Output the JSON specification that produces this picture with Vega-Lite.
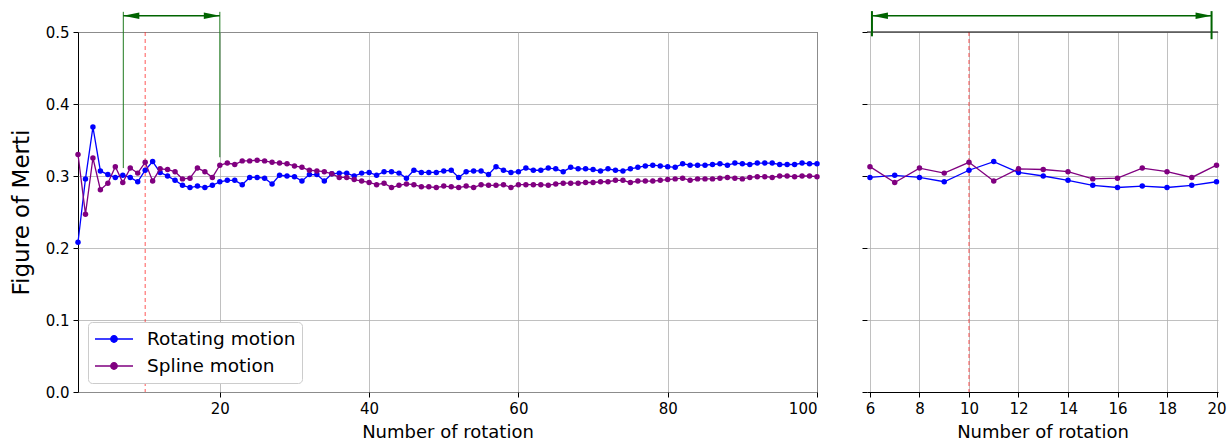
{
  "$schema": "https://vega.github.io/schema/vega-lite/v6.json",
  "padding": {"left": 9, "top": 10, "right": 0, "bottom": 0},
  "spacing": 50,
  "bounds": "flush",
  "config": {
    "font": "DejaVu Sans",
    "view": {"stroke": null},
    "axis": {
      "labelFont": "DejaVu Sans", "labelFontSize": 15, "labelColor": "#000",
      "titleFont": "DejaVu Sans", "titleFontWeight": "normal", "titleColor": "#000",
      "tickColor": "#000", "tickSize": 5, "tickWidth": 1, "labelPadding": 4,
      "gridColor": "#b0b0b0", "gridWidth": 0.8, "domainColor": "#000", "domainWidth": 1
    }
  },
  "datasets": {
    "fom": [
      {"n":1,"m":"Rotating motion","v":0.208},{"n":2,"m":"Rotating motion","v":0.296},{"n":3,"m":"Rotating motion","v":0.368},{"n":4,"m":"Rotating motion","v":0.307},{"n":5,"m":"Rotating motion","v":0.302},
      {"n":6,"m":"Rotating motion","v":0.298},{"n":7,"m":"Rotating motion","v":0.301},{"n":8,"m":"Rotating motion","v":0.298},{"n":9,"m":"Rotating motion","v":0.292},{"n":10,"m":"Rotating motion","v":0.308},
      {"n":11,"m":"Rotating motion","v":0.320},{"n":12,"m":"Rotating motion","v":0.305},{"n":13,"m":"Rotating motion","v":0.300},{"n":14,"m":"Rotating motion","v":0.294},{"n":15,"m":"Rotating motion","v":0.287},
      {"n":16,"m":"Rotating motion","v":0.284},{"n":17,"m":"Rotating motion","v":0.286},{"n":18,"m":"Rotating motion","v":0.284},{"n":19,"m":"Rotating motion","v":0.287},{"n":20,"m":"Rotating motion","v":0.292},
      {"n":21,"m":"Rotating motion","v":0.294},{"n":22,"m":"Rotating motion","v":0.294},{"n":23,"m":"Rotating motion","v":0.288},{"n":24,"m":"Rotating motion","v":0.298},{"n":25,"m":"Rotating motion","v":0.298},
      {"n":26,"m":"Rotating motion","v":0.297},{"n":27,"m":"Rotating motion","v":0.289},{"n":28,"m":"Rotating motion","v":0.301},{"n":29,"m":"Rotating motion","v":0.300},{"n":30,"m":"Rotating motion","v":0.299},
      {"n":31,"m":"Rotating motion","v":0.293},{"n":32,"m":"Rotating motion","v":0.302},{"n":33,"m":"Rotating motion","v":0.302},{"n":34,"m":"Rotating motion","v":0.293},{"n":35,"m":"Rotating motion","v":0.303},
      {"n":36,"m":"Rotating motion","v":0.304},{"n":37,"m":"Rotating motion","v":0.304},{"n":38,"m":"Rotating motion","v":0.300},{"n":39,"m":"Rotating motion","v":0.304},{"n":40,"m":"Rotating motion","v":0.305},
      {"n":41,"m":"Rotating motion","v":0.301},{"n":42,"m":"Rotating motion","v":0.306},{"n":43,"m":"Rotating motion","v":0.306},{"n":44,"m":"Rotating motion","v":0.304},{"n":45,"m":"Rotating motion","v":0.297},
      {"n":46,"m":"Rotating motion","v":0.308},{"n":47,"m":"Rotating motion","v":0.305},{"n":48,"m":"Rotating motion","v":0.305},{"n":49,"m":"Rotating motion","v":0.305},{"n":50,"m":"Rotating motion","v":0.307},
      {"n":51,"m":"Rotating motion","v":0.308},{"n":52,"m":"Rotating motion","v":0.298},{"n":53,"m":"Rotating motion","v":0.306},{"n":54,"m":"Rotating motion","v":0.307},{"n":55,"m":"Rotating motion","v":0.307},
      {"n":56,"m":"Rotating motion","v":0.302},{"n":57,"m":"Rotating motion","v":0.313},{"n":58,"m":"Rotating motion","v":0.308},{"n":59,"m":"Rotating motion","v":0.305},{"n":60,"m":"Rotating motion","v":0.306},
      {"n":61,"m":"Rotating motion","v":0.311},{"n":62,"m":"Rotating motion","v":0.308},{"n":63,"m":"Rotating motion","v":0.308},{"n":64,"m":"Rotating motion","v":0.311},{"n":65,"m":"Rotating motion","v":0.310},
      {"n":66,"m":"Rotating motion","v":0.306},{"n":67,"m":"Rotating motion","v":0.312},{"n":68,"m":"Rotating motion","v":0.310},{"n":69,"m":"Rotating motion","v":0.310},{"n":70,"m":"Rotating motion","v":0.309},
      {"n":71,"m":"Rotating motion","v":0.307},{"n":72,"m":"Rotating motion","v":0.310},{"n":73,"m":"Rotating motion","v":0.308},{"n":74,"m":"Rotating motion","v":0.307},{"n":75,"m":"Rotating motion","v":0.310},
      {"n":76,"m":"Rotating motion","v":0.312},{"n":77,"m":"Rotating motion","v":0.314},{"n":78,"m":"Rotating motion","v":0.315},{"n":79,"m":"Rotating motion","v":0.314},{"n":80,"m":"Rotating motion","v":0.313},
      {"n":81,"m":"Rotating motion","v":0.312},{"n":82,"m":"Rotating motion","v":0.317},{"n":83,"m":"Rotating motion","v":0.315},{"n":84,"m":"Rotating motion","v":0.315},{"n":85,"m":"Rotating motion","v":0.315},
      {"n":86,"m":"Rotating motion","v":0.316},{"n":87,"m":"Rotating motion","v":0.317},{"n":88,"m":"Rotating motion","v":0.315},{"n":89,"m":"Rotating motion","v":0.318},{"n":90,"m":"Rotating motion","v":0.317},
      {"n":91,"m":"Rotating motion","v":0.316},{"n":92,"m":"Rotating motion","v":0.318},{"n":93,"m":"Rotating motion","v":0.318},{"n":94,"m":"Rotating motion","v":0.318},{"n":95,"m":"Rotating motion","v":0.316},
      {"n":96,"m":"Rotating motion","v":0.316},{"n":97,"m":"Rotating motion","v":0.316},{"n":98,"m":"Rotating motion","v":0.318},{"n":99,"m":"Rotating motion","v":0.317},{"n":100,"m":"Rotating motion","v":0.317},
      {"n":1,"m":"Spline motion","v":0.330},{"n":2,"m":"Spline motion","v":0.247},{"n":3,"m":"Spline motion","v":0.325},{"n":4,"m":"Spline motion","v":0.281},{"n":5,"m":"Spline motion","v":0.290},
      {"n":6,"m":"Spline motion","v":0.313},{"n":7,"m":"Spline motion","v":0.291},{"n":8,"m":"Spline motion","v":0.311},{"n":9,"m":"Spline motion","v":0.304},{"n":10,"m":"Spline motion","v":0.319},
      {"n":11,"m":"Spline motion","v":0.293},{"n":12,"m":"Spline motion","v":0.310},{"n":13,"m":"Spline motion","v":0.309},{"n":14,"m":"Spline motion","v":0.306},{"n":15,"m":"Spline motion","v":0.296},
      {"n":16,"m":"Spline motion","v":0.297},{"n":17,"m":"Spline motion","v":0.311},{"n":18,"m":"Spline motion","v":0.306},{"n":19,"m":"Spline motion","v":0.298},{"n":20,"m":"Spline motion","v":0.315},
      {"n":21,"m":"Spline motion","v":0.318},{"n":22,"m":"Spline motion","v":0.316},{"n":23,"m":"Spline motion","v":0.321},{"n":24,"m":"Spline motion","v":0.321},{"n":25,"m":"Spline motion","v":0.322},
      {"n":26,"m":"Spline motion","v":0.321},{"n":27,"m":"Spline motion","v":0.319},{"n":28,"m":"Spline motion","v":0.318},{"n":29,"m":"Spline motion","v":0.317},{"n":30,"m":"Spline motion","v":0.314},
      {"n":31,"m":"Spline motion","v":0.312},{"n":32,"m":"Spline motion","v":0.308},{"n":33,"m":"Spline motion","v":0.307},{"n":34,"m":"Spline motion","v":0.306},{"n":35,"m":"Spline motion","v":0.303},
      {"n":36,"m":"Spline motion","v":0.298},{"n":37,"m":"Spline motion","v":0.298},{"n":38,"m":"Spline motion","v":0.295},{"n":39,"m":"Spline motion","v":0.293},{"n":40,"m":"Spline motion","v":0.291},
      {"n":41,"m":"Spline motion","v":0.288},{"n":42,"m":"Spline motion","v":0.290},{"n":43,"m":"Spline motion","v":0.284},{"n":44,"m":"Spline motion","v":0.287},{"n":45,"m":"Spline motion","v":0.289},
      {"n":46,"m":"Spline motion","v":0.288},{"n":47,"m":"Spline motion","v":0.285},{"n":48,"m":"Spline motion","v":0.285},{"n":49,"m":"Spline motion","v":0.284},{"n":50,"m":"Spline motion","v":0.286},
      {"n":51,"m":"Spline motion","v":0.285},{"n":52,"m":"Spline motion","v":0.284},{"n":53,"m":"Spline motion","v":0.286},{"n":54,"m":"Spline motion","v":0.284},{"n":55,"m":"Spline motion","v":0.288},
      {"n":56,"m":"Spline motion","v":0.287},{"n":57,"m":"Spline motion","v":0.287},{"n":58,"m":"Spline motion","v":0.288},{"n":59,"m":"Spline motion","v":0.284},{"n":60,"m":"Spline motion","v":0.288},
      {"n":61,"m":"Spline motion","v":0.288},{"n":62,"m":"Spline motion","v":0.288},{"n":63,"m":"Spline motion","v":0.288},{"n":64,"m":"Spline motion","v":0.287},{"n":65,"m":"Spline motion","v":0.289},
      {"n":66,"m":"Spline motion","v":0.290},{"n":67,"m":"Spline motion","v":0.290},{"n":68,"m":"Spline motion","v":0.290},{"n":69,"m":"Spline motion","v":0.291},{"n":70,"m":"Spline motion","v":0.291},
      {"n":71,"m":"Spline motion","v":0.292},{"n":72,"m":"Spline motion","v":0.292},{"n":73,"m":"Spline motion","v":0.294},{"n":74,"m":"Spline motion","v":0.294},{"n":75,"m":"Spline motion","v":0.291},
      {"n":76,"m":"Spline motion","v":0.293},{"n":77,"m":"Spline motion","v":0.293},{"n":78,"m":"Spline motion","v":0.293},{"n":79,"m":"Spline motion","v":0.294},{"n":80,"m":"Spline motion","v":0.295},
      {"n":81,"m":"Spline motion","v":0.296},{"n":82,"m":"Spline motion","v":0.297},{"n":83,"m":"Spline motion","v":0.294},{"n":84,"m":"Spline motion","v":0.296},{"n":85,"m":"Spline motion","v":0.296},
      {"n":86,"m":"Spline motion","v":0.296},{"n":87,"m":"Spline motion","v":0.297},{"n":88,"m":"Spline motion","v":0.298},{"n":89,"m":"Spline motion","v":0.297},{"n":90,"m":"Spline motion","v":0.296},
      {"n":91,"m":"Spline motion","v":0.298},{"n":92,"m":"Spline motion","v":0.299},{"n":93,"m":"Spline motion","v":0.299},{"n":94,"m":"Spline motion","v":0.298},{"n":95,"m":"Spline motion","v":0.300},
      {"n":96,"m":"Spline motion","v":0.300},{"n":97,"m":"Spline motion","v":0.299},{"n":98,"m":"Spline motion","v":0.300},{"n":99,"m":"Spline motion","v":0.300},{"n":100,"m":"Spline motion","v":0.299}
    ]
  },
  "hconcat": [
    {
      "width": 739,
      "height": 360,
      "view": {"stroke": "#000", "strokeWidth": 1},
      "data": {"name": "fom"},
      "layer": [
        {
          "data": {"values": [{"n": 10}]},
          "mark": {"type": "rule", "color": "#ff2020", "opacity": 0.75, "strokeDash": [4, 3], "strokeWidth": 1},
          "encoding": {"x": {"field": "n", "type": "quantitative"}}
        },
        {
          "data": {"values": [{"n": 7.07, "top": 0.528, "bottom": 0.311}, {"n": 20, "top": 0.528, "bottom": 0.326}]},
          "mark": {"type": "rule", "color": "#1f7a1f", "strokeWidth": 1},
          "encoding": {
            "x": {"field": "n", "type": "quantitative"},
            "y": {"field": "top", "type": "quantitative"},
            "y2": {"field": "bottom"}
          }
        },
        {
          "data": {"values": [{"from": 7.07, "to": 20, "level": 0.5226}]},
          "mark": {"type": "rule", "color": "#006400", "strokeWidth": 1.5},
          "encoding": {
            "x": {"field": "from", "type": "quantitative"},
            "x2": {"field": "to"},
            "y": {"field": "level", "type": "quantitative"}
          }
        },
        {
          "data": {"values": [{"from": 7.07, "level": 0.5226}]},
          "mark": {"type": "point", "shape": "M0,0L2,-0.4L2,0.4Z", "filled": true, "size": 256, "color": "#006400", "opacity": 1},
          "encoding": {
            "x": {"field": "from", "type": "quantitative"},
            "y": {"field": "level", "type": "quantitative"}
          }
        },
        {
          "data": {"values": [{"to": 20, "level": 0.5226}]},
          "mark": {"type": "point", "shape": "M0,0L-2,-0.4L-2,0.4Z", "filled": true, "size": 256, "color": "#006400", "opacity": 1},
          "encoding": {
            "x": {"field": "to", "type": "quantitative"},
            "y": {"field": "level", "type": "quantitative"}
          }
        },
        {
          "transform": [{"filter": "datum.m === 'Rotating motion'"}],
          "mark": {"type": "line", "strokeWidth": 1.3},
          "encoding": {
            "x": {
              "field": "n", "type": "quantitative",
              "scale": {"domain": [1, 100], "nice": false, "zero": false},
              "axis": {"values": [20, 40, 60, 80, 100], "title": "Number of rotation", "titleFontSize": 18, "titlePadding": 7, "domain": false, "grid": true}
            },
            "y": {
              "field": "v", "type": "quantitative",
              "scale": {"domain": [0, 0.5], "nice": false, "zero": false},
              "axis": {"values": [0, 0.1, 0.2, 0.3, 0.4, 0.5], "format": ".1f", "title": "Figure of Merti", "titleFontSize": 23, "titlePadding": 12, "domain": false, "grid": true}
            },
            "color": {
              "field": "m", "type": "nominal",
              "scale": {"domain": ["Rotating motion", "Spline motion"], "range": ["#0000ff", "#800080"]},
              "legend": {
                "orient": "none", "legendX": 10, "legendY": 290, "title": null,
                "symbolType": "M-1,0L1,0M-0.17,0A0.17,0.17,0,1,1,0.17,0A0.17,0.17,0,1,1,-0.17,0Z",
                "symbolSize": 1444, "symbolStrokeWidth": 1.3, "clipHeight": 22,
                "labelFont": "DejaVu Sans", "labelFontSize": 18.5, "labelColor": "#000", "labelOffset": 13,
                "padding": 6, "rowPadding": 5, "cornerRadius": 4,
                "fillColor": "#ffffff", "strokeColor": "#cccccc",
                "encode": {
                  "symbols": {
                    "update": {
                      "fill": {"signal": "datum.value === 'Rotating motion' ? '#0000ff' : '#800080'"},
                      "stroke": {"signal": "datum.value === 'Rotating motion' ? '#0000ff' : '#800080'"},
                      "opacity": {"value": 1}
                    }
                  }
                }
              }
            }
          }
        },
        {
          "transform": [{"filter": "datum.m === 'Rotating motion'"}],
          "mark": {"type": "point", "filled": true, "size": 30, "opacity": 1},
          "encoding": {
            "x": {"field": "n", "type": "quantitative"},
            "y": {"field": "v", "type": "quantitative"},
            "color": {"field": "m", "type": "nominal"}
          }
        },
        {
          "transform": [{"filter": "datum.m === 'Spline motion'"}],
          "mark": {"type": "line", "strokeWidth": 1.3},
          "encoding": {
            "x": {"field": "n", "type": "quantitative"},
            "y": {"field": "v", "type": "quantitative"},
            "color": {"field": "m", "type": "nominal"}
          }
        },
        {
          "transform": [{"filter": "datum.m === 'Spline motion'"}],
          "mark": {"type": "point", "filled": true, "size": 30, "opacity": 1},
          "encoding": {
            "x": {"field": "n", "type": "quantitative"},
            "y": {"field": "v", "type": "quantitative"},
            "color": {"field": "m", "type": "nominal"}
          }
        }
      ]
    },
    {
      "width": 351,
      "height": 360,
      "data": {"name": "fom"},
      "layer": [
        {
          "data": {"values": [{"n": 10}]},
          "mark": {"type": "rule", "color": "#ff2020", "opacity": 0.75, "strokeDash": [4, 3], "strokeWidth": 1},
          "encoding": {"x": {"field": "n", "type": "quantitative"}}
        },
        {
          "data": {"values": [{"level": 0.5}]},
          "mark": {"type": "rule", "color": "#000", "strokeWidth": 1.2},
          "encoding": {"y": {"field": "level", "type": "quantitative"}}
        },
        {
          "data": {"values": [{"n": 6.08, "top": 0.529, "bottom": 0.494}, {"n": 19.8, "top": 0.529, "bottom": 0.49}]},
          "mark": {"type": "rule", "color": "#006400", "strokeWidth": 2},
          "encoding": {
            "x": {"field": "n", "type": "quantitative"},
            "y": {"field": "top", "type": "quantitative"},
            "y2": {"field": "bottom"}
          }
        },
        {
          "data": {"values": [{"from": 6.08, "to": 19.8, "level": 0.5226}]},
          "mark": {"type": "rule", "color": "#006400", "strokeWidth": 1.5},
          "encoding": {
            "x": {"field": "from", "type": "quantitative"},
            "x2": {"field": "to"},
            "y": {"field": "level", "type": "quantitative"}
          }
        },
        {
          "data": {"values": [{"from": 6.08, "level": 0.5226}]},
          "mark": {"type": "point", "shape": "M0,0L2,-0.4L2,0.4Z", "filled": true, "size": 256, "color": "#006400", "opacity": 1},
          "encoding": {
            "x": {"field": "from", "type": "quantitative"},
            "y": {"field": "level", "type": "quantitative"}
          }
        },
        {
          "data": {"values": [{"to": 19.8, "level": 0.5226}]},
          "mark": {"type": "point", "shape": "M0,0L-2,-0.4L-2,0.4Z", "filled": true, "size": 256, "color": "#006400", "opacity": 1},
          "encoding": {
            "x": {"field": "to", "type": "quantitative"},
            "y": {"field": "level", "type": "quantitative"}
          }
        },
        {
          "transform": [{"filter": "datum.m === 'Rotating motion' && datum.n >= 6 && datum.n <= 20"}],
          "mark": {"type": "line", "strokeWidth": 1.3},
          "encoding": {
            "x": {
              "field": "n", "type": "quantitative",
              "scale": {"domain": [5.88, 20.06], "nice": false, "zero": false},
              "axis": {"values": [6, 8, 10, 12, 14, 16, 18, 20], "title": "Number of rotation", "titleFontSize": 18, "titlePadding": 7, "domain": true, "grid": true}
            },
            "y": {
              "field": "v", "type": "quantitative",
              "scale": {"domain": [0, 0.5], "nice": false, "zero": false},
              "axis": {"values": [0, 0.1, 0.2, 0.3, 0.4, 0.5], "labels": false, "title": null, "domain": false, "ticks": true, "grid": true}
            },
            "color": {
              "field": "m", "type": "nominal",
              "scale": {"domain": ["Rotating motion", "Spline motion"], "range": ["#0000ff", "#800080"]},
              "legend": null
            }
          }
        },
        {
          "transform": [{"filter": "datum.m === 'Rotating motion' && datum.n >= 6 && datum.n <= 20"}],
          "mark": {"type": "point", "filled": true, "size": 30, "opacity": 1},
          "encoding": {
            "x": {"field": "n", "type": "quantitative"},
            "y": {"field": "v", "type": "quantitative"},
            "color": {"field": "m", "type": "nominal", "legend": null}
          }
        },
        {
          "transform": [{"filter": "datum.m === 'Spline motion' && datum.n >= 6 && datum.n <= 20"}],
          "mark": {"type": "line", "strokeWidth": 1.3},
          "encoding": {
            "x": {"field": "n", "type": "quantitative"},
            "y": {"field": "v", "type": "quantitative"},
            "color": {"field": "m", "type": "nominal", "legend": null}
          }
        },
        {
          "transform": [{"filter": "datum.m === 'Spline motion' && datum.n >= 6 && datum.n <= 20"}],
          "mark": {"type": "point", "filled": true, "size": 30, "opacity": 1},
          "encoding": {
            "x": {"field": "n", "type": "quantitative"},
            "y": {"field": "v", "type": "quantitative"},
            "color": {"field": "m", "type": "nominal", "legend": null}
          }
        }
      ]
    }
  ]
}
